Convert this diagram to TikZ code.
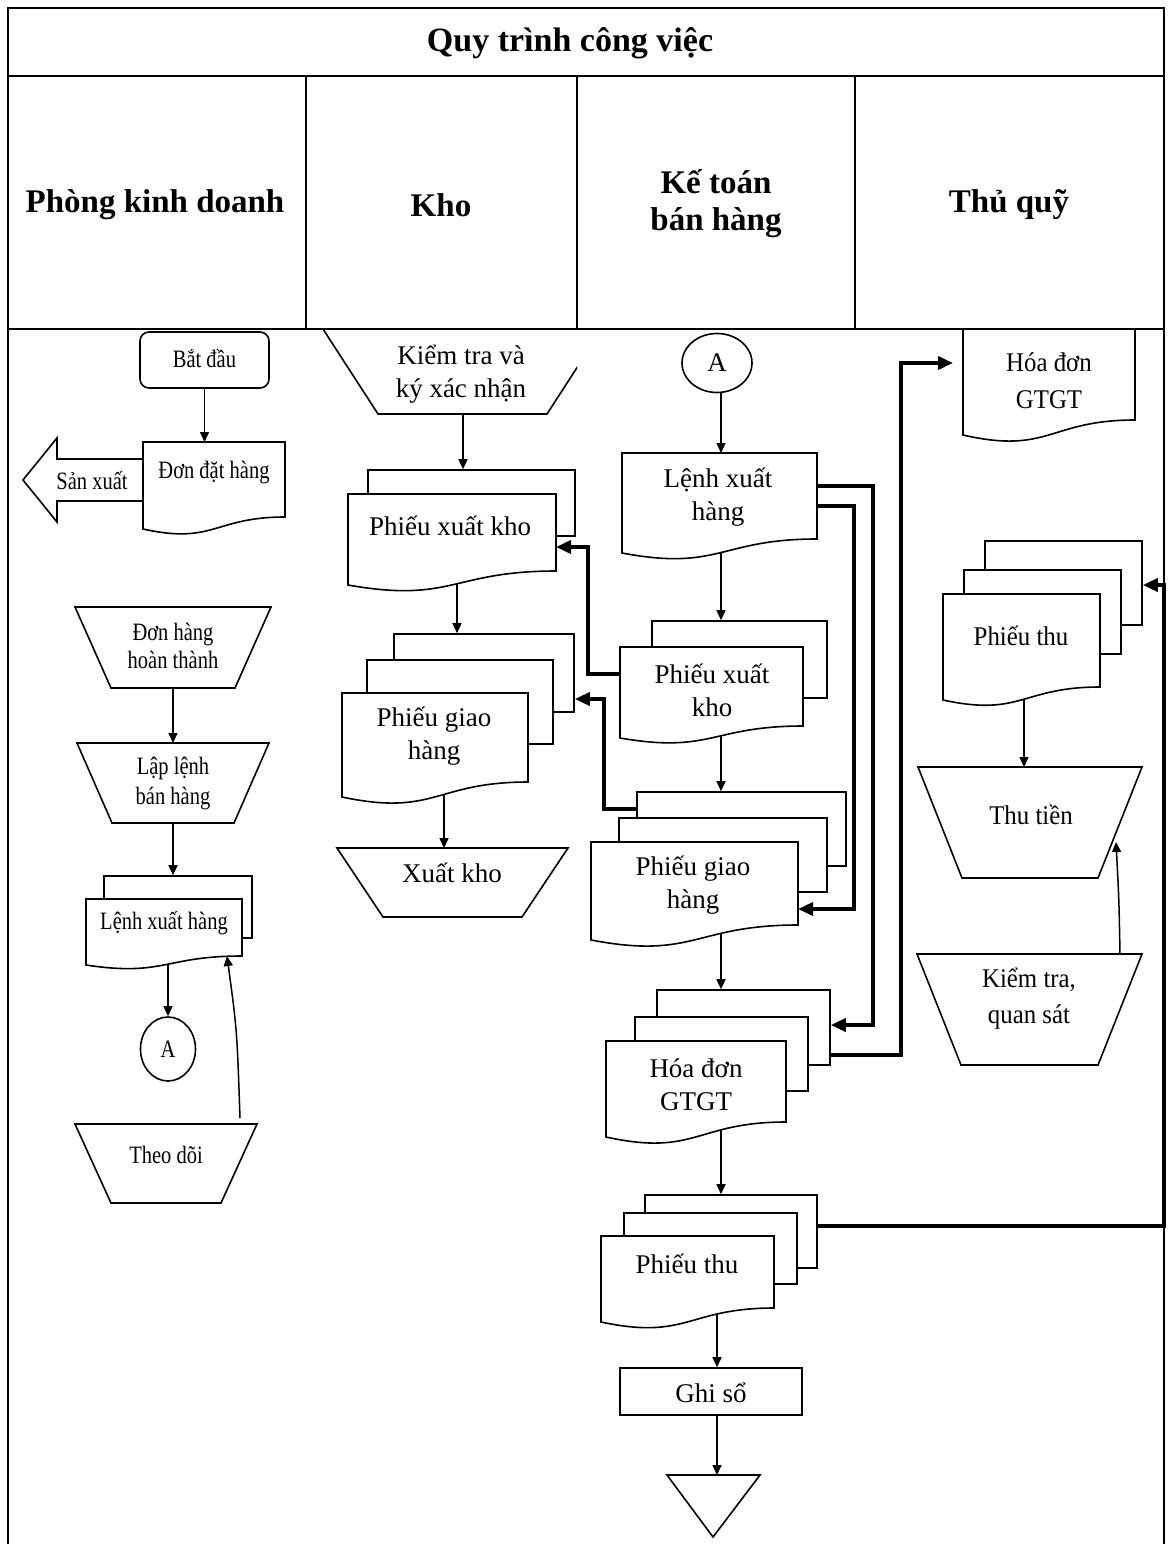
\documentclass[tikz,border=0pt]{standalone}
\usepackage{fontspec}
\setmainfont{Liberation Serif}
\newfontfamily\fonta[FakeStretch=0.82]{Liberation Serif}
\newfontfamily\fontd[FakeStretch=0.92]{Liberation Serif}
\usetikzlibrary{arrows.meta,shapes.geometric}
\pgfdeclarelayer{bg}
\pgfsetlayers{bg,main}
\tikzset{
  shp/.style={draw, line width=1.6pt, line join=miter, fill=white},
  box/.style={shp, inner sep=0pt},
  ghost/.style={inner sep=0pt, outer sep=0pt},
  txt/.style={inner sep=0pt, align=center},
  la/.style={font=\fonta\fontsize{25}{28}\selectfont},
  lb/.style={font=\fontsize{27}{33}\selectfont},
  ld/.style={font=\fontd\fontsize{27}{37}\selectfont},
  arr/.style={line width=1.5pt, -{Triangle[length=10pt,width=9pt]}},
  tarr/.style={line width=3.6pt, -{Triangle[length=15pt,width=13pt]}},
  hdr/.style={inner sep=0pt, align=center, font=\bfseries\fontsize{33}{37}\selectfont},
  circ/.style={ellipse, draw, line width=1.6pt, fill=white, inner sep=0pt},
}
\newcommand\rnode[6]{%
  \node[#1, name=#2, minimum width={(#5)-(#3)}, minimum height={(#6)-(#4)}, at={({((#3)+(#5))/2},{((#4)+(#6))/2})}] {};}
\newcommand\docnode[6]{%
  \draw[shp] (#2,#3) -- (#4,#3) -- (#4,#5) .. controls ({((#2)+(#4))/2},{#5}) and ({((#2)+(#4))/2},{(#6)+1.316*((#6)-(#5))}) .. (#2,#6) -- cycle;
  \node[ghost, name=#1, minimum width={(#4)-(#2)}, minimum height={(#5)-(#3)}, at={({((#2)+(#4))/2},{((#3)+(#5))/2})}] {};}
\newcommand\trapnode[6]{%
  \draw[shp] (#2,#4) -- (#3,#4) -- ({(#3)-(#5)},#6) -- ({(#2)+(#5)},#6) -- cycle;
  \node[ghost, name=#1, minimum width={(#3)-(#2)}, minimum height={(#6)-(#4)}, at={({((#2)+(#3))/2},{((#4)+(#6))/2})}] {};}
\begin{document}
\begin{tikzpicture}[x=1pt,y=-1pt]
\useasboundingbox (0,0) rectangle (1169,1544);
% ---------- header texts
\node[hdr, font=\bfseries\fontsize{34}{40}\selectfont, name=title] at (570,43) {Quy trình công việc};
\node[hdr, name=h1] at (155,205) {Phòng kinh doanh};
\node[hdr, name=h2] at (441,205) {Kho};
\node[hdr, name=h3] at (716,204) {Kế toán\\bán hàng};
\node[hdr, name=h4] at (1009,205) {Thủ quỹ};
% ---------- lane 1
\rnode{box, rounded corners=9pt}{bd}{140}{332}{269}{388}
\node[txt, la, name=bd-t] at (204.5,359) {Bắt đầu};
\draw[shp] (143,459) -- (57,459) -- (57,438) -- (23,480) -- (57,522) -- (57,501) -- (143,501);
\node[txt, la, name=sx] at (92,481) {Sản xuất};
\docnode{ddh}{143}{442}{285}{517}{529}
\node[txt, la, name=ddh-t] at (214,473) {Đơn đặt hàng};
\trapnode{dhht}{75}{271}{607}{36}{688}
\node[txt, la, name=dhht-t] at (173,646) {Đơn hàng\\hoàn thành};
\trapnode{llbh}{77}{269}{743}{35}{823}
\node[txt, font=\fonta\fontsize{25}{30}\selectfont, name=llbh-t] at (173,783) {Lập lệnh\\bán hàng};
\rnode{box}{lxh1b}{104}{876}{252}{938}
\docnode{lxh1}{86}{899}{242}{956}{965}
\node[txt, la, name=lxh1-t] at (164,923) {Lệnh xuất hàng};
\node[circ, la, minimum width=55, minimum height=64, name=a1] at (168,1049) {A};
\trapnode{td}{75}{257}{1124}{36}{1203}
\node[txt, la, name=td-t] at (166,1155) {Theo dõi};
% ---------- lane 2
\begin{scope}
\clip (306,329) rectangle (577,430);
\draw[shp] (323,329) -- (378,414) -- (547,414) -- (602,329) -- cycle;
\end{scope}
\node[ghost, name=ktxn, minimum width=200, minimum height=85] at (463,371.5) {};
\node[txt, lb, name=ktxn-t] at (461,374) {Kiểm tra và\\ký xác nhận};
\rnode{box}{pxk2b}{368}{470}{575}{536}
\docnode{pxk2}{348}{494}{556}{571}{585}
\node[txt, lb, name=pxk2-t] at (450,526) {Phiếu xuất kho};
\rnode{box}{pgh2b}{394}{634}{574}{712}
\rnode{box}{pgh2m}{367}{660}{553}{744}
\docnode{pgh2}{342}{693}{528}{782}{797}
\node[txt, lb, name=pgh2-t] at (434,736) {Phiếu giao\\hàng};
\trapnode{xk}{337}{568}{848}{46}{917}
\node[txt, lb, name=xk-t] at (452,873) {Xuất kho};
% ---------- lane 3
\node[circ, lb, minimum width=70, minimum height=59, name=a3] at (717,363) {A};
\docnode{lxh3}{622}{453}{817}{539}{553}
\node[txt, lb, name=lxh3-t] at (718,497) {Lệnh xuất\\hàng};
\rnode{box}{pxk3b}{652}{621}{827}{698}
\docnode{pxk3}{620}{647}{803}{726}{738}
\node[txt, lb, name=pxk3-t] at (712,690) {Phiếu xuất\\kho};
\rnode{box}{pgh3b}{637}{792}{846}{866}
\rnode{box}{pgh3m}{619}{818}{827}{892}
\docnode{pgh3}{591}{842}{798}{925}{940}
\node[txt, lb, name=pgh3-t] at (693,885) {Phiếu giao\\hàng};
\rnode{box}{hd3b}{657}{990}{830}{1065}
\rnode{box}{hd3m}{635}{1017}{808}{1091}
\docnode{hd3}{606}{1041}{786}{1122}{1137}
\node[txt, lb, name=hd3-t] at (696,1085) {Hóa đơn\\GTGT};
\rnode{box}{pt3b}{645}{1195}{817}{1268}
\rnode{box}{pt3m}{624}{1213}{797}{1284}
\docnode{pt3}{601}{1236}{774}{1308}{1322}
\node[txt, lb, name=pt3-t] at (687,1264) {Phiếu thu};
\rnode{box}{gs}{620}{1368}{802}{1415}
\node[txt, lb, name=gs-t] at (711,1393) {Ghi sổ};
\draw[shp] (667,1475) -- (760,1475) -- (713,1537) -- cycle;
\node[ghost, name=tri, minimum width=93, minimum height=62] at (713.5,1506) {};
% ---------- lane 4
\docnode{hd4}{963}{329}{1135}{420}{435}
\node[txt, ld, name=hd4-t] at (1049,381) {Hóa đơn\\GTGT};
\rnode{box}{pt4b}{985}{541}{1142}{625}
\rnode{box}{pt4m}{964}{570}{1121}{654}
\docnode{pt4}{943}{594}{1100}{687}{700}
\node[txt, ld, name=pt4-t] at (1021,636) {Phiếu thu};
\trapnode{tt}{918}{1142}{767}{44}{878}
\node[txt, ld, name=tt-t] at (1031,815) {Thu tiền};
\trapnode{kt}{917}{1142}{954}{44}{1065}
\node[txt, font=\fontd\fontsize{27}{36}\selectfont, name=kt-t] at (1029,999) {Kiểm tra,\\quan sát};
% ---------- connectors (behind shapes)
\coordinate (k2a) at (457,0);
\coordinate (k2b) at (444,0);
\coordinate (k3) at (721,0);
\coordinate (k3b) at (717,0);
\coordinate (k4) at (1024,0);
\begin{pgfonlayer}{bg}
\draw[arr] (bd.south) -- (bd.south |- ddh.north);
\draw[arr] (dhht.south) -- (llbh.north);
\draw[arr] (llbh.south) -- (llbh.south |- lxh1b.north);
\draw[arr] (lxh1.south -| a1.north) -- (a1.north);
\draw[arr] (ktxn.south) -- (ktxn.south |- pxk2b.north);
\draw[arr] (pxk2.south -| k2a) -- (pgh2b.north -| k2a);
\draw[arr] (pgh2.south -| k2b) -- (xk.north -| k2b);
\draw[arr] (a3.south -| k3) -- (lxh3.north -| k3);
\draw[arr] (lxh3.south -| k3) -- (pxk3b.north -| k3);
\draw[arr] (pxk3.south -| k3) -- (pgh3b.north -| k3);
\draw[arr] (pgh3.south -| k3) -- (hd3b.north -| k3);
\draw[arr] (hd3.south -| k3) -- (pt3b.north -| k3);
\draw[arr] (pt3.south -| k3b) -- (gs.north -| k3b);
\draw[arr] (gs.south -| k3b) -- (tri.north -| k3b);
\draw[arr] (pt4.south -| k4) -- (tt.north -| k4);
\draw[arr] ([xshift=-17pt,yshift=6pt]td.north east) .. controls (237,1030) .. ([xshift=-15pt]lxh1.south east);
\draw[arr] ([xshift=-22pt]kt.north east) .. controls (1119,900) .. ([xshift=-26pt,yshift=-75pt]tt.north east);
\draw[tarr] (pxk3.west |- 0,674) -- (588,674) -- (588,547) -- (pxk2.east |- 0,547);
\draw[tarr] (pgh3b.west |- 0,809) -- (604,809) -- (604,699) -- (pgh2b.east |- 0,699);
\draw[tarr] (lxh3.east |- 0,486) -- (873,486) -- (873,1025) -- (hd3b.east |- 0,1025);
\draw[tarr] (lxh3.east |- 0,506) -- (854,506) -- (854,909) -- (pgh3.east |- 0,909);
\draw[tarr, shorten >=10pt] (hd3b.east |- 0,1055) -- (901,1055) -- (901,363) -- (hd4.west |- 0,363);
\draw[tarr] (pt3b.east |- 0,1226) -- (1164,1226) -- (1164,585) -- (pt4b.east |- 0,585);
\end{pgfonlayer}
% ---------- table frame
\draw[line width=2.3pt] (8,1544) -- (8,8) -- (1164,8) -- (1164,1544);
\draw[line width=2.3pt] (8,76) -- (1164,76);
\draw[line width=2.8pt] (8,329) -- (1164,329);
\draw[line width=1.8pt] (306,76) -- (306,329) (577,76) -- (577,329) (855,76) -- (855,329);
\end{tikzpicture}
\end{document}
